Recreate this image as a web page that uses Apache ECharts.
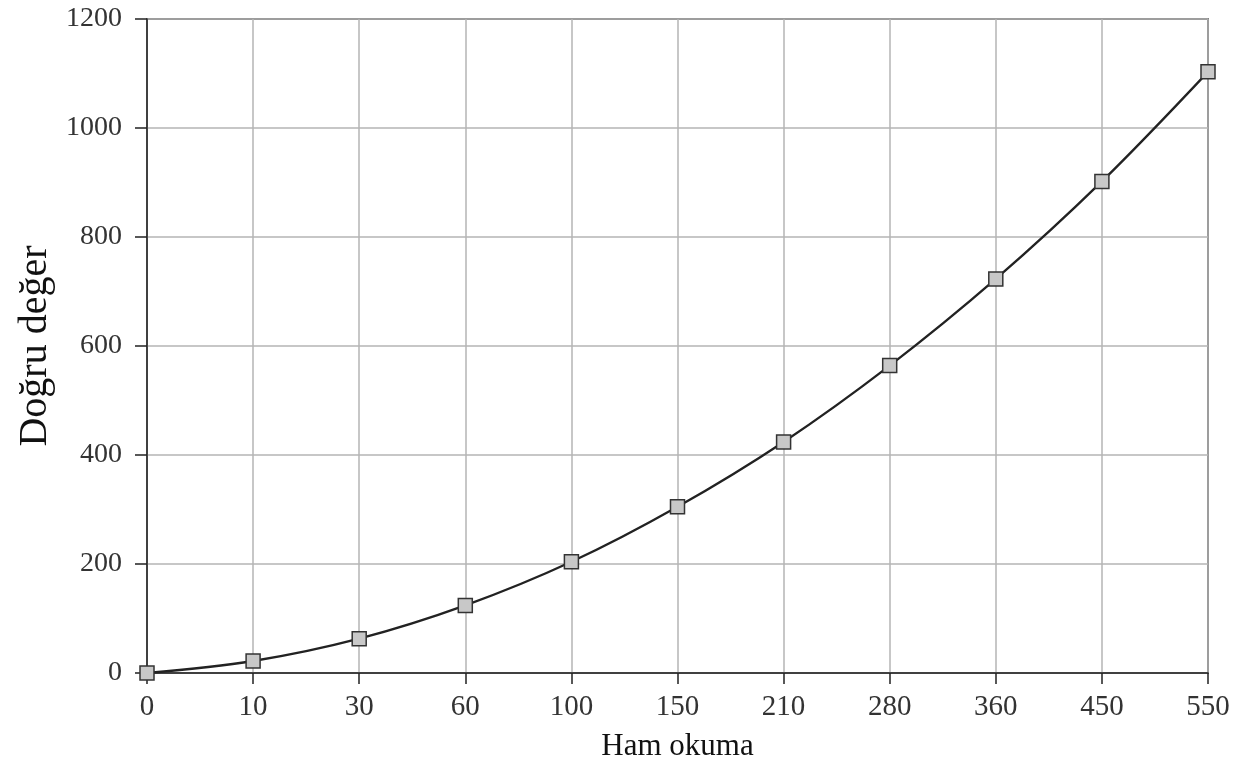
<!DOCTYPE html>
<html>
<head>
<meta charset="utf-8">
<script src="https://cdn.jsdelivr.net/npm/echarts@6/dist/echarts.min.js"></script>
<style>html,body{margin:0;padding:0;background:#fff}#c{width:1235px;height:778px}</style>
</head>
<body>
<div id="c"></div>
<script>
const categories = ['0','10','30','60','100','150','210','280','360','450','550'];
const values = [0, 22, 63, 124, 204, 305, 424, 564, 723, 902, 1103];
const yTicks = [0, 200, 400, 600, 800, 1000, 1200];
const xName = 'Ham okuma';
const yName = 'Doğru değer';

const font = '"Liberation Serif", "DejaVu Serif", serif';
const chart = echarts.init(document.getElementById('c'), null, {renderer: 'canvas'});
chart.setOption({
  animation: false,
  backgroundColor: '#fff',
  grid: {left: 147, right: 27, top: 19, bottom: 105, show: true, borderColor: '#222', borderWidth: 1.5, backgroundColor: 'transparent'},
  xAxis: {
    type: 'category',
    data: categories,
    boundaryGap: false,
    name: xName,
    nameLocation: 'middle',
    nameGap: 58,
    nameTextStyle: {fontFamily: font, fontSize: 31, color: '#111'},
    axisLine: {lineStyle: {color: '#222', width: 1.5}},
    axisTick: {show: true, length: 11, lineStyle: {color: '#222', width: 1.5}, alignWithLabel: true},
    axisLabel: {fontFamily: font, fontSize: 29, color: '#333', margin: 20},
    splitLine: {show: true, lineStyle: {color: '#b4b4b4', width: 1.5}}
  },
  yAxis: {
    type: 'value',
    min: yTicks[0],
    max: yTicks[yTicks.length - 1],
    interval: 200,
    name: yName,
    nameLocation: 'middle',
    nameGap: 92,
    nameTextStyle: {fontFamily: font, fontSize: 40, color: '#111'},
    axisLine: {show: true, lineStyle: {color: '#222', width: 1.5}},
    axisTick: {show: true, length: 12, lineStyle: {color: '#222', width: 1.5}},
    axisLabel: {fontFamily: font, fontSize: 28, color: '#333', margin: 25, formatter: v => String(v)},
    splitLine: {show: true, lineStyle: {color: '#b4b4b4', width: 1.5}}
  },
  series: [{
    type: 'line',
    data: values,
    smooth: 0.35,
    symbol: 'rect',
    symbolSize: 14,
    itemStyle: {color: '#c8c8c8', borderColor: '#333', borderWidth: 1.5},
    lineStyle: {color: '#222', width: 2.3},
    z: 5
  }]
});
</script>
</body>
</html>
